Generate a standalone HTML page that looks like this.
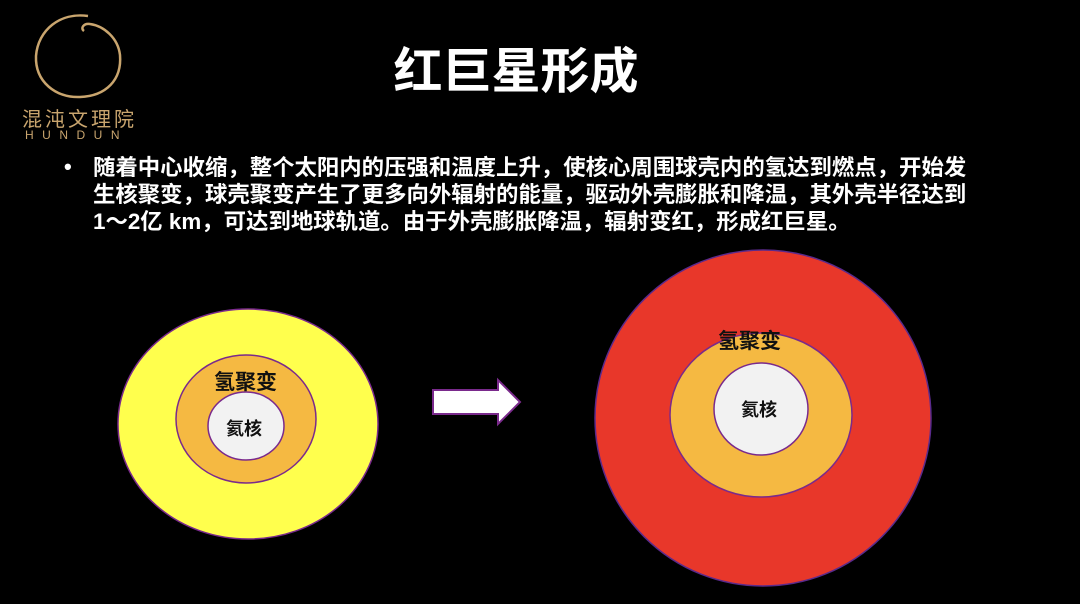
<!DOCTYPE html>
<html><head><meta charset="utf-8"><style>
html,body{margin:0;padding:0;background:#000;}
body{width:1080px;height:604px;position:relative;overflow:hidden;font-family:"Liberation Sans","Noto Sans CJK SC",sans-serif;color:#fff;}
.t{position:absolute;white-space:nowrap;}
</style></head><body>
<svg width="1080" height="604" style="position:absolute;left:0;top:0">
<path d="M88 16 C60 12 38 30 36 56 C35 82 56 98 80 97 C106 96 122 80 120 55 C118 38 104 26 90 24 C84 23 80 28 84 31" fill="none" stroke="#c9a56e" stroke-width="2.5"/>
<ellipse cx="248" cy="424" rx="130" ry="115" fill="#ffff4d" stroke="#7a2a8c" stroke-width="1.5"/>
<ellipse cx="246" cy="419" rx="70" ry="64" fill="#f5b942" stroke="#7a2a8c" stroke-width="1.5"/>
<ellipse cx="246" cy="426" rx="38" ry="34" fill="#f2f2f2" stroke="#7a2a8c" stroke-width="1.5"/>
<ellipse cx="763" cy="418" rx="168" ry="168" fill="#e8372a" stroke="#5a2a8c" stroke-width="1.5"/>
<ellipse cx="761" cy="415" rx="91" ry="82" fill="#f5b942" stroke="#7a2a8c" stroke-width="1.5"/>
<ellipse cx="761" cy="409" rx="47" ry="46" fill="#f2f2f2" stroke="#7a2a8c" stroke-width="1.5"/>
<polygon points="433,390 498,390 498,380 520,402 498,424 498,414 433,414" fill="#fff" stroke="#7a2a8c" stroke-width="2"/>
</svg>
<div class="t" style="left:22px;top:103px;font-size:20px;color:#c9a56e;letter-spacing:3px;">混沌文理院</div>
<div class="t" style="left:25px;top:128px;font-size:12px;color:#c9a56e;letter-spacing:8.5px;">HUNDUN</div>
<div class="t" style="left:0;width:1032px;text-align:center;top:32px;font-size:49px;font-weight:bold;">红巨星形成</div>
<div class="t" style="left:64px;top:154px;font-size:22px;font-weight:bold;">•</div>
<div class="t" style="left:93px;top:154px;font-size:22.4px;line-height:27px;font-weight:bold;">随着中心收缩，整个太阳内的压强和温度上升，使核心周围球壳内的氢达到燃点，开始发<br>生核聚变，球壳聚变产生了更多向外辐射的能量，驱动外壳膨胀和降温，其外壳半径达到<br>1～2亿 km，可达到地球轨道。由于外壳膨胀降温，辐射变红，形成红巨星。</div>
<div class="t" style="left:214px;top:366px;font-size:21px;font-weight:bold;color:#111;">氢聚变</div>
<div class="t" style="left:226px;top:415px;font-size:18px;font-weight:bold;color:#111;">氦核</div>
<div class="t" style="left:718px;top:325px;font-size:21px;font-weight:bold;color:#111;">氢聚变</div>
<div class="t" style="left:741px;top:396px;font-size:18px;font-weight:bold;color:#111;">氦核</div>
</body></html>
